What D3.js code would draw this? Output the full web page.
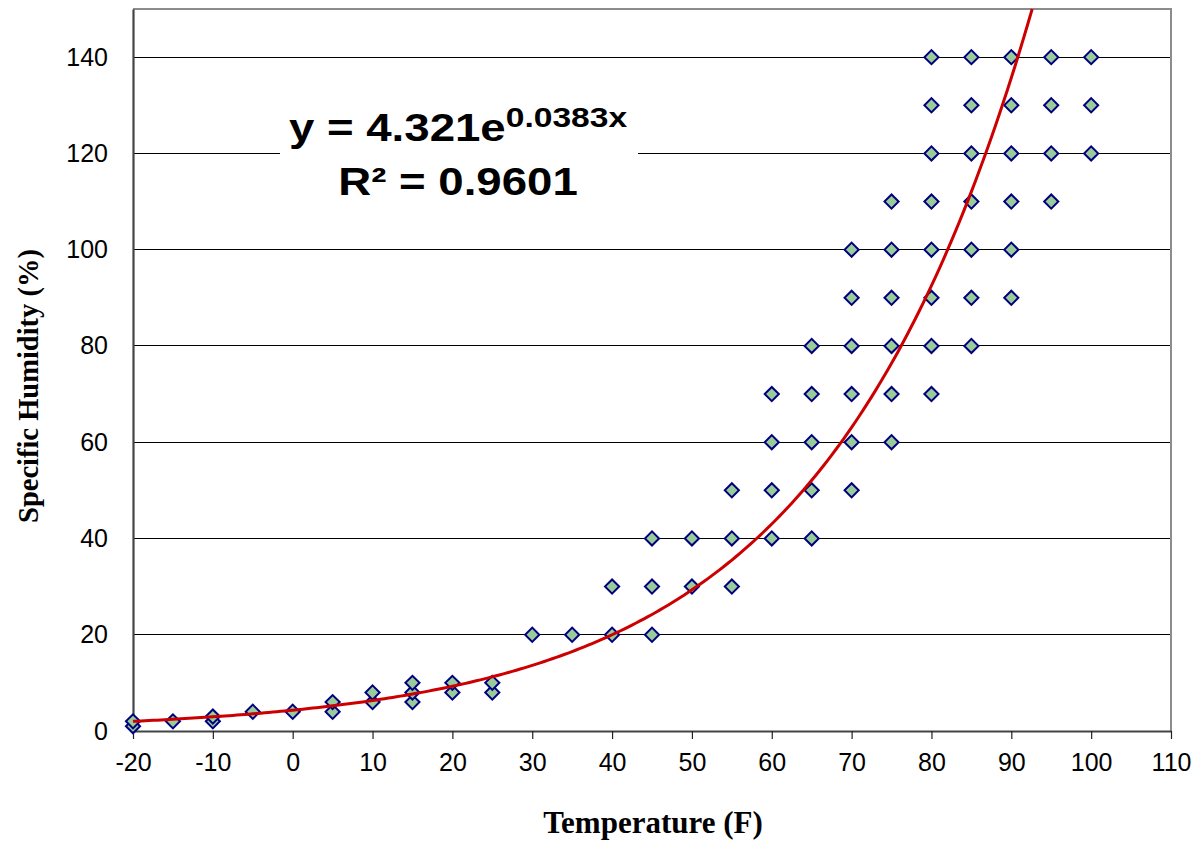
<!DOCTYPE html>
<html>
<head>
<meta charset="utf-8">
<script src="https://cdn.jsdelivr.net/npm/d3@7"></script>
<style>
  html, body { margin: 0; padding: 0; background: #fff; }
  svg { display: block; }
</style>
</head>
<body>
<svg id="chart" width="1198" height="844"></svg>
<script>
// Observed temperature (F) and specific humidity (%) pairs
const temperatures = [
  -20, -20, -15, -10, -10, -5, 0, 5, 5, 10, 10, 15, 15, 15, 20, 20, 25, 25,
  30, 35, 40, 40, 45, 45, 45, 50, 50, 55, 55, 55,
  60, 60, 60, 60, 65, 65, 65, 65, 65,
  70, 70, 70, 70, 70, 70, 75, 75, 75, 75, 75, 75,
  80, 80, 80, 80, 80, 80, 80, 80,
  85, 85, 85, 85, 85, 85, 85,
  90, 90, 90, 90, 90, 90,
  95, 95, 95, 95,
  100, 100, 100
];
const humidities = [
  1, 2, 2, 2, 3, 4, 4, 4, 6, 6, 8, 6, 8, 10, 8, 10, 8, 10,
  20, 20, 20, 30, 20, 30, 40, 30, 40, 30, 40, 50,
  40, 50, 60, 70, 40, 50, 60, 70, 80,
  50, 60, 70, 80, 90, 100, 60, 70, 80, 90, 100, 110,
  70, 80, 90, 100, 110, 120, 130, 140,
  80, 90, 100, 110, 120, 130, 140,
  90, 100, 110, 120, 130, 140,
  110, 120, 130, 140,
  120, 130, 140
];

// Exponential trendline y = a * e^(b x)
const trendA = 4.321;
const trendB = 0.0383;
const rSquared = 0.9601;

const xTicks = [-20, -10, 0, 10, 20, 30, 40, 50, 60, 70, 80, 90, 100, 110];
const yTicks = [0, 20, 40, 60, 80, 100, 120, 140];
const xDomain = [-20, 110];
const yDomain = [0, 150];

const svg = d3.select("#chart");
const plot = { left: 133, right: 1171, top: 9, bottom: 731 };

const x = d3.scaleLinear().domain(xDomain).range([plot.left, plot.right]);
const y = d3.scaleLinear().domain(yDomain).range([plot.bottom, plot.top]);

// Plain hyphen-minus for negative tick labels
const plainFormat = d => String(d);

// Horizontal gridlines
svg.append("g")
  .selectAll("line")
  .data(yTicks.filter(v => v > 0))
  .join("line")
  .attr("x1", plot.left).attr("x2", plot.right)
  .attr("y1", d => y(d)).attr("y2", d => y(d))
  .attr("stroke", "#000").attr("stroke-width", 1)
  .attr("shape-rendering", "crispEdges");

// Top and right frame of the plot area
svg.append("path")
  .attr("d", `M${plot.left},${plot.top}H${plot.right}V${plot.bottom}`)
  .attr("fill", "none")
  .attr("stroke", "#8c8c8c")
  .attr("stroke-width", 2);

// X axis
const xAxis = svg.append("g")
  .attr("transform", `translate(0,${plot.bottom})`)
  .call(d3.axisBottom(x).tickValues(xTicks).tickFormat(plainFormat)
    .tickSize(8).tickSizeOuter(0).tickPadding(14));
xAxis.select(".domain").attr("stroke", "#444").attr("stroke-width", 2.2);
xAxis.selectAll(".tick line").attr("stroke", "#222").attr("stroke-width", 1.2);
xAxis.selectAll(".tick text")
  .attr("font-family", "Liberation Sans, Arial, sans-serif")
  .attr("font-size", 25).attr("fill", "#000");

// Y axis
const yAxis = svg.append("g")
  .attr("transform", `translate(${plot.left},0)`)
  .call(d3.axisLeft(y).tickValues(yTicks).tickFormat(plainFormat)
    .tickSize(0).tickPadding(25));
yAxis.select(".domain").attr("stroke", "#444").attr("stroke-width", 2.2);
yAxis.selectAll(".tick text")
  .attr("font-family", "Liberation Sans, Arial, sans-serif")
  .attr("font-size", 25).attr("fill", "#000");

// Data markers: light green diamonds with navy outline
const points = temperatures.map((t, i) => ({ t, h: humidities[i] }));
const diamond = d3.symbol().type(d3.symbolSquare).size(100);
svg.append("g")
  .selectAll("path")
  .data(points)
  .join("path")
  .attr("d", diamond)
  .attr("transform", d => `translate(${x(d.t)},${y(d.h)}) rotate(45)`)
  .attr("fill", "#99cc99")
  .attr("stroke", "#000080")
  .attr("stroke-width", 2);

// Trendline, clipped at the top of the plot area
const xEnd = Math.log(yDomain[1] / trendA) / trendB;
const trendX = d3.range(xDomain[0], xEnd, 0.5).concat([xEnd]);
const line = d3.line()
  .x(d => x(d))
  .y(d => y(trendA * Math.exp(trendB * d)));
svg.append("path")
  .datum(trendX)
  .attr("d", line)
  .attr("fill", "none")
  .attr("stroke", "#cc0000")
  .attr("stroke-width", 3);

// Trendline equation label on a white box
const label = svg.append("g");
label.append("rect")
  .attr("x", 280).attr("y", 100)
  .attr("width", 358).attr("height", 105)
  .attr("fill", "#fff");
const labelText = label.append("g")
  .attr("transform", "translate(458,0) scale(1.2,1)")
  .attr("font-family", "Liberation Sans, Arial, sans-serif")
  .attr("font-weight", "bold")
  .attr("fill", "#000")
  .attr("text-anchor", "middle");
const eq = labelText.append("text").attr("x", 0).attr("y", 141).attr("font-size", 38);
eq.append("tspan").text(`y = ${trendA}e`);
eq.append("tspan").attr("font-size", 28).attr("dy", -14).text(`${trendB}x`);
labelText.append("text")
  .attr("x", 0).attr("y", 195).attr("font-size", 38)
  .text(`R² = ${rSquared}`);

// Axis titles
svg.append("text")
  .attr("x", (plot.left + plot.right) / 2 + 1).attr("y", 833)
  .attr("text-anchor", "middle")
  .attr("font-family", "Liberation Serif, Times New Roman, serif")
  .attr("font-weight", "bold").attr("font-size", 31)
  .text("Temperature (F)");

svg.append("text")
  .attr("transform", "translate(38,386) rotate(-90)")
  .attr("text-anchor", "middle")
  .attr("font-family", "Liberation Serif, Times New Roman, serif")
  .attr("font-weight", "bold").attr("font-size", 28.5)
  .text("Specific Humidity (%)");
</script>
</body>
</html>
